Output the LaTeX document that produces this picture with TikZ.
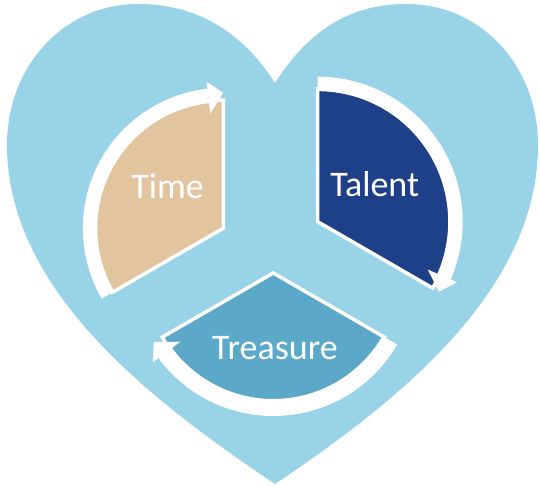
\documentclass[tikz,border=0pt]{standalone}
\usepackage{fontspec}
\setmainfont{Carlito}
\usepackage{tikz}

\definecolor{heartblue}{RGB}{153,211,232}
\definecolor{timetan}{RGB}{226,196,159}
\definecolor{talentblue}{RGB}{30,64,136}
\definecolor{treasureblue}{RGB}{91,168,201}

\begin{document}
\begin{tikzpicture}[x=1pt,y=1pt,
  wedge/.style={fill=#1,draw=white,line width=3.5pt,line join=miter},
  lbl/.style={text=white,font=\fontsize{36}{40}\selectfont,anchor=base,inner sep=0pt}]
\useasboundingbox (0,0) rectangle (540,485);
% heart
\fill[heartblue] (275,402) .. controls (309,455) and (350,481) .. (407,481)
   .. controls (480,481) and (538,420) .. (538,340)
   .. controls (538,195) and (400,85) .. (275,1)
   .. controls (150,85) and (7,195) .. (7,340)
   .. controls (7,420) and (65,481) .. (138,481)
   .. controls (195,481) and (241,455) .. (275,402) -- cycle;
% segments with their circular arrows (clockwise)
\foreach \ax/\ay/\r/\R/\s/\c in %
{223.3/256.7/126.5/140.5/210/timetan,317.7/263.3/131/145/90/talentblue,273.3/212/126.5/143/-30/treasureblue} {
   \begin{scope}[shift={(\ax,\ay)}]
   \fill[wedge=\c] (0,0) -- ({\s}:{\r+1.75}) arc[start angle=\s,end angle=\s-120,radius=\r+1.75] -- cycle;
   \fill[white] ({\s}:{\r-0.5}) arc[start angle=\s,end angle=\s-113.5,radius=\r-0.5]
      -- ({\s-113.5}:{\R}) arc[start angle=\s-113.5,end angle=\s,radius=\R] -- cycle;
   \fill[white] ({\s-120}:{\R-5}) -- ({\s-113.5}:{\R+7}) -- ({\s-113.5}:{\r-11}) -- cycle;
   \end{scope}
}
\node[lbl] (time) at (167.5,286) {Time};
\node[lbl] (talent) at (374.7,288.3) {Talent};
\node[lbl] (treasure) at (275,126) {Treasure};
\end{tikzpicture}
\end{document}
